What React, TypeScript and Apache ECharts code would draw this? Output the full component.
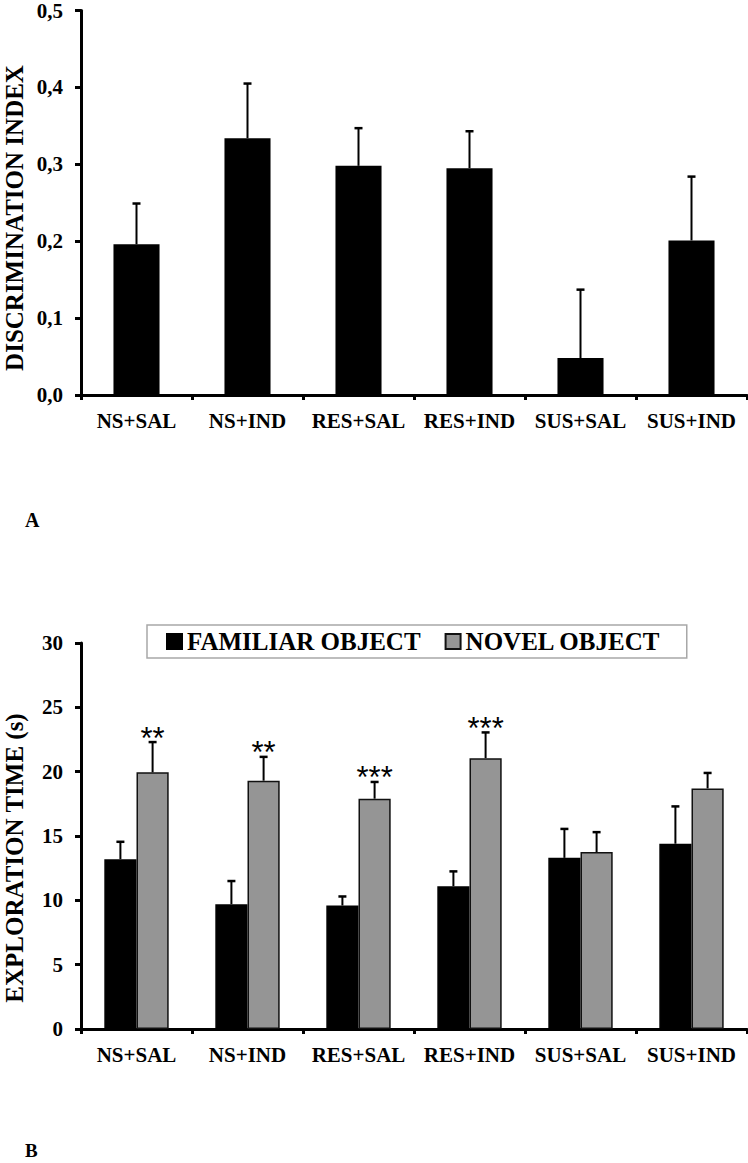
import React, { useEffect, useRef } from "react";
import * as echarts from "echarts";

const categories = ["NS+SAL", "NS+IND", "RES+SAL", "RES+IND", "SUS+SAL", "SUS+IND"];
const discrimination = [0.196, 0.334, 0.298, 0.295, 0.048, 0.201];
const discriminationSem = [0.053, 0.071, 0.049, 0.048, 0.089, 0.083];
const familiar = [13.2, 9.7, 9.6, 11.1, 13.3, 14.4];
const familiarSem = [1.35, 1.8, 0.7, 1.15, 2.25, 2.9];
const novel = [19.95, 19.3, 17.9, 21.05, 13.75, 18.7];
const novelSem = [2.35, 1.85, 1.3, 2.0, 1.55, 1.2];
const significance = ["**", "**", "***", "***", "", ""];
const seriesNames = ["FAMILIAR OBJECT", "NOVEL OBJECT"];

const SERIF = "'Liberation Serif', 'Times New Roman', serif";
const SANS = "'Liberation Sans', Arial, sans-serif";

function makeErrorRender(barGapRatio: number, nBars: number, idx: number) {
  return (params: any, api: any) => {
    const x = api.value(0);
    const top = api.coord([x, api.value(1)]);
    const end = api.coord([x, api.value(2)]);
    const band = api.size([1, 0])[0];
    const barW = (band * (1 - barGapRatio)) / nBars;
    const cx = top[0] - (barW * nBars) / 2 + barW * (idx + 0.5);
    const children: any[] = [
      { type: "line", shape: { x1: cx, y1: top[1], x2: cx, y2: end[1] }, style: { stroke: "#000", lineWidth: 2 } },
      { type: "line", shape: { x1: cx - 4, y1: end[1], x2: cx + 4, y2: end[1] }, style: { stroke: "#000", lineWidth: 2.5 } },
    ];
    const sig = api.value(3);
    if (sig) {
      children.push({
        type: "text",
        x: cx,
        y: end[1] - 4,
        style: { text: sig, fontSize: 31, fontFamily: SANS, fill: "#000", align: "center", verticalAlign: "middle" },
      });
    }
    return { type: "group", children };
  };
}

export default function App() {
  const ref = useRef<HTMLDivElement>(null);
  useEffect(() => {
    if (!ref.current) return;
    const chart = echarts.init(ref.current, null, { renderer: "svg" });
    const axisLine = { show: true, lineStyle: { color: "#000", width: 3 } };
    const axisTick = { show: true, length: 6, lineStyle: { color: "#000", width: 3 } };
    const labelStyle = { color: "#000", fontSize: 21, fontWeight: "bold", fontFamily: SERIF };
    const gapTop = 0.585;
    const gapBottom = 0.42;
    chart.setOption({
      animation: false,
      legend: {
        data: seriesNames,
        left: 147,
        top: 625,
        orient: "horizontal",
        borderColor: "#a8a8a8",
        borderWidth: 1.5,
        padding: [4, 26, 4, 19],
        itemWidth: 15,
        itemHeight: 15,
        itemGap: 24,
        icon: "rect",
        textStyle: { color: "#000", fontSize: 25, fontWeight: "bold", fontFamily: SERIF },
      },
      grid: [
        { left: 81, right: 1, top: 7, height: 388 },
        { left: 81, right: 1, top: 643, height: 386 },
      ],
      xAxis: [0, 1].map((g) => ({
        type: "category",
        gridIndex: g,
        data: categories,
        axisLine,
        axisTick: { ...axisTick, length: 5 },
        axisLabel: { ...labelStyle, margin: 15, interval: 0 },
      })),
      yAxis: [
        {
          type: "value",
          gridIndex: 0,
          min: 0,
          max: 0.5,
          interval: 0.1,
          axisLine,
          axisTick,
          splitLine: { show: false },
          axisLabel: { ...labelStyle, margin: 18, formatter: (v: number) => v.toFixed(1).replace(".", ",") },
        },
        {
          type: "value",
          gridIndex: 1,
          min: 0,
          max: 30,
          interval: 5,
          axisLine,
          axisTick,
          splitLine: { show: false },
          axisLabel: { ...labelStyle, margin: 18 },
        },
      ],
      series: [
        {
          name: "DI",
          type: "bar",
          xAxisIndex: 0,
          yAxisIndex: 0,
          data: discrimination,
          barCategoryGap: gapTop * 100 + "%",
          itemStyle: { color: "#000" },
          z: 2,
        },
        {
          name: "DI err",
          type: "custom",
          xAxisIndex: 0,
          yAxisIndex: 0,
          renderItem: makeErrorRender(gapTop, 1, 0),
          data: categories.map((c, i) => [i, discrimination[i], discrimination[i] + discriminationSem[i], ""]),
          z: 3,
        },
        {
          name: seriesNames[0],
          type: "bar",
          xAxisIndex: 1,
          yAxisIndex: 1,
          data: familiar,
          barGap: "0%",
          barCategoryGap: gapBottom * 100 + "%",
          itemStyle: { color: "#000", borderColor: "#000", borderWidth: 1.5 },
          z: 2,
        },
        {
          name: seriesNames[1],
          type: "bar",
          xAxisIndex: 1,
          yAxisIndex: 1,
          data: novel,
          barGap: "0%",
          barCategoryGap: gapBottom * 100 + "%",
          itemStyle: { color: "#959595", borderColor: "#111", borderWidth: 1.5 },
          z: 2,
        },
        {
          name: "fam err",
          type: "custom",
          xAxisIndex: 1,
          yAxisIndex: 1,
          renderItem: makeErrorRender(gapBottom, 2, 0),
          data: categories.map((c, i) => [i, familiar[i], familiar[i] + familiarSem[i], ""]),
          z: 3,
        },
        {
          name: "nov err",
          type: "custom",
          xAxisIndex: 1,
          yAxisIndex: 1,
          renderItem: makeErrorRender(gapBottom, 2, 1),
          data: categories.map((c, i) => [i, novel[i], novel[i] + novelSem[i], significance[i]]),
          z: 3,
        },
      ],
      graphic: [
        {
          type: "text",
          x: 14,
          y: 218,
          rotation: Math.PI / 2,
          style: { text: "DISCRIMINATION INDEX", fontSize: 25, fontWeight: "bold", fontFamily: SERIF, fill: "#000", align: "center", verticalAlign: "middle" },
        },
        {
          type: "text",
          x: 14,
          y: 858,
          rotation: Math.PI / 2,
          style: { text: "EXPLORATION TIME (s)", fontSize: 25, fontWeight: "bold", fontFamily: SERIF, fill: "#000", align: "center", verticalAlign: "middle" },
        },
        {
          type: "text",
          x: 25,
          y: 520,
          style: { text: "A", fontSize: 20, fontWeight: "bold", fontFamily: SERIF, fill: "#000", align: "left", verticalAlign: "middle" },
        },
        {
          type: "text",
          x: 25,
          y: 1150,
          style: { text: "B", fontSize: 19, fontWeight: "bold", fontFamily: SERIF, fill: "#000", align: "left", verticalAlign: "middle" },
        },
      ],
    });
    return () => chart.dispose();
  }, []);
  return <div ref={ref} style={{ position: "fixed", left: 0, top: 0, width: 748, height: 1163, background: "#fff" }} />;
}
